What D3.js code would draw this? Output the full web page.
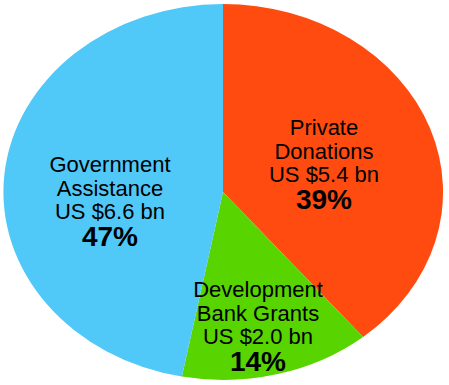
<!DOCTYPE html>
<html>
<head>
<meta charset="utf-8">
<script src="https://cdn.jsdelivr.net/npm/d3@7"></script>
<style>
  body { margin: 0; background: #fff; }
  text { font-family: "Liberation Sans", Arial, sans-serif; fill: #000; }
</style>
</head>
<body>
<div id="main"></div>
<script>
const ctx = {
    width: 449,
    height: 385,
    cx: 223,
    cy: 192,
    rx: 220,
    ry: 188
};

// data
const categories = ["Private Donations", "Development Bank Grants", "Government Assistance"];
const amounts = ["US $5.4 bn", "US $2.0 bn", "US $6.6 bn"];
const shares = [39, 14, 47];
const colors = ["#FF4B0F", "#58D400", "#50C8F8"];
// label text lines per slice
const labelLines = [["Private", "Donations"], ["Development", "Bank Grants"], ["Government", "Assistance"]];
// label anchor (x, first baseline) per slice
const labelPos = [[324, 135], [258, 297], [110, 172]];

const svg = d3.select("#main").append("svg")
    .attr("width", ctx.width)
    .attr("height", ctx.height);

const pie = d3.pie().sort(null).value(d => d);
const arcs = pie(shares);
const arc = d3.arc().innerRadius(0).outerRadius(1);

// pie is drawn on a unit circle and stretched into an ellipse
const g = svg.append("g")
    .attr("transform", `translate(${ctx.cx},${ctx.cy}) scale(${ctx.rx},${ctx.ry})`);

g.selectAll("path")
    .data(arcs)
    .enter().append("path")
    .attr("d", arc)
    .attr("fill", (d, i) => colors[i]);

const labels = svg.append("g");
categories.forEach((c, i) => {
    const [x, y] = labelPos[i];
    const t = labels.append("text")
        .attr("x", x)
        .attr("y", y)
        .attr("text-anchor", "middle");
    const lines = labelLines[i].concat([amounts[i]]);
    lines.forEach((l, j) => {
        t.append("tspan")
            .attr("x", x)
            .attr("dy", j === 0 ? 0 : (j === 2 ? 23 : 24))
            .style("font-size", "22px")
            .text(l);
    });
    t.append("tspan")
        .attr("x", x)
        .attr("dy", 27)
        .style("font-size", "28px")
        .style("font-weight", "bold")
        .text(shares[i] + "%");
});
</script>
</body>
</html>
